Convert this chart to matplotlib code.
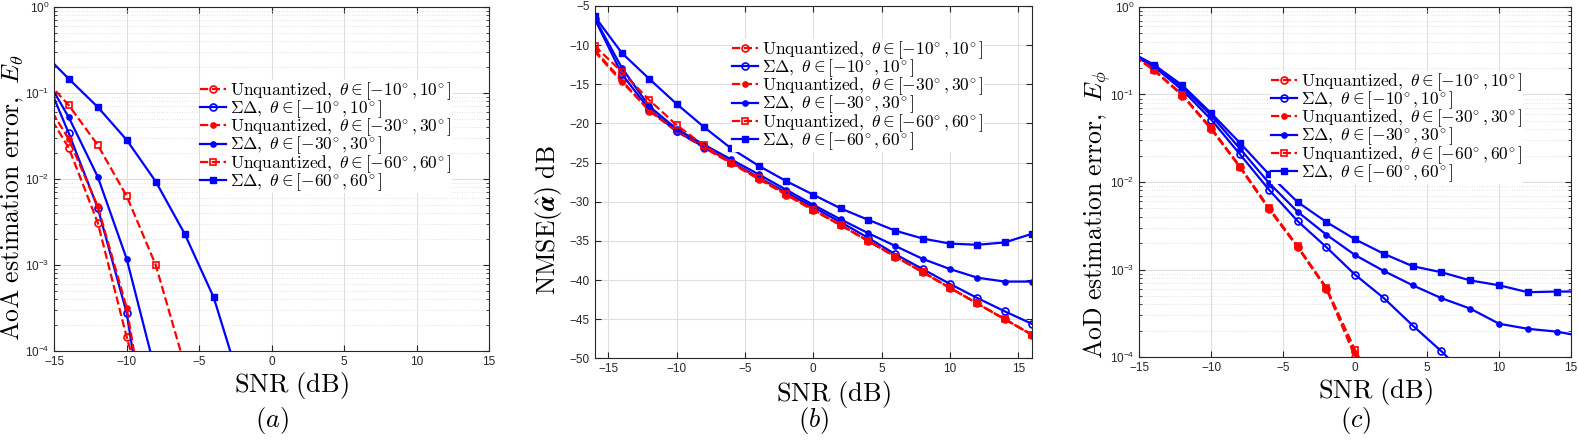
import numpy as np
import matplotlib
matplotlib.use('Agg')
import matplotlib.pyplot as plt
from matplotlib.ticker import FixedLocator, LogLocator, FuncFormatter, NullFormatter

plt.rcParams['font.family'] = ['Liberation Sans', 'DejaVu Sans']
plt.rcParams['mathtext.fontset'] = 'cm'

# SNR grid (dB) used by all three panels
snr = [-16, -14, -12, -10, -8, -6, -4, -2, 0, 2, 4, 6, 8, 10, 12, 14, 16]

# (a) AoA estimation error
a_unq10 = [0.082, 0.023, 0.0031, 0.000144, 1.0e-5]
a_sd10 = [0.216, 0.034, 0.0046, 0.000275, 2.0e-6]
a_unq30 = [0.103, 0.029, 0.0048, 0.000316, 3.0e-6]
a_sd30 = [0.20, 0.052, 0.0106, 0.00117, 5.6e-5]
a_unq60 = [0.167, 0.072, 0.0248, 0.0063, 0.001, 6.8e-5]
a_sd60 = [0.32, 0.146, 0.0686, 0.0284, 0.00935, 0.0023, 0.00042, 3.4e-5]

# (b) NMSE of alpha (dB)
b_unq10 = [-10.6, -14.5, -18.4, -21.0, -23.1, -25.1, -27.1, -29.1, -31.1,
           -33.0, -35.0, -37.0, -39.0, -41.0, -43.0, -45.0, -47.0]
b_sd10 = [-6.6, -13.7, -18.2, -21.0, -23.0, -24.9, -26.9, -28.8, -30.7,
          -32.6, -34.6, -36.7, -38.6, -40.5, -42.3, -44.0, -45.6]
b_unq30 = [-10.8, -14.7, -18.3, -20.9, -23.0, -25.0, -27.0, -29.0, -31.0,
           -32.95, -35.0, -37.0, -38.95, -41.0, -43.0, -45.0, -47.0]
b_sd30 = [-6.5, -12.9, -17.8, -20.7, -22.7, -24.6, -26.5, -28.45, -30.4,
          -32.25, -34.0, -35.65, -37.3, -38.6, -39.7, -40.2, -40.2]
b_unq60 = [-10.1, -13.4, -17.0, -20.2, -22.8, -25.0, -27.0, -29.0, -31.0,
           -33.0, -35.0, -37.0, -39.0, -41.0, -43.0, -45.0, -47.0]
b_sd60 = [-6.3, -11.0, -14.3, -17.5, -20.45, -23.2, -25.4, -27.35, -29.1,
          -30.85, -32.3, -33.7, -34.7, -35.35, -35.5, -35.2, -34.1]

# (c) AoD estimation error
c_unq10 = [0.325, 0.19, 0.097, 0.040, 0.0147, 0.0049, 0.0018, 0.0006, 1.0e-4, 1.0e-5]
c_sd10 = [0.31, 0.21, 0.112, 0.0516, 0.0207, 0.0082, 0.00358, 0.0018, 0.00087,
          0.00047, 0.000229, 0.000116, 5.5e-5]
c_unq30 = [0.33, 0.192, 0.098, 0.041, 0.0148, 0.005, 0.00182, 0.00061, 1.1e-4, 1.0e-5]
c_sd30 = [0.32, 0.215, 0.12, 0.0575, 0.024, 0.0098, 0.00457, 0.0025, 0.00146,
          0.00096, 0.00066, 0.00047, 0.000357, 0.00024, 0.00021, 0.000195, 0.00017]
c_unq60 = [0.33, 0.193, 0.099, 0.041, 0.015, 0.0051, 0.00185, 0.00062, 1.2e-4, 1.0e-5]
c_sd60 = [0.33, 0.22, 0.127, 0.061, 0.0279, 0.0123, 0.0059, 0.00349, 0.00221,
          0.00151, 0.00109, 0.00093, 0.00075, 0.00066, 0.00055, 0.00056, 0.00056]

deg = r'^{\!\circ}'
labels = [r'$\mathrm{Unquantized},\ \theta \in [-10%s, 10%s]$' % (deg, deg),
          r'$\Sigma\Delta,\ \theta \in [-10%s, 10%s]$' % (deg, deg),
          r'$\mathrm{Unquantized},\ \theta \in [-30%s, 30%s]$' % (deg, deg),
          r'$\Sigma\Delta,\ \theta \in [-30%s, 30%s]$' % (deg, deg),
          r'$\mathrm{Unquantized},\ \theta \in [-60%s, 60%s]$' % (deg, deg),
          r'$\Sigma\Delta,\ \theta \in [-60%s, 60%s]$' % (deg, deg)]

# red dashed = unquantized, blue solid = sigma-delta
styles = [dict(color='red', ls='--', lw=1.6, marker='o', ms=5, mfc='none', mew=1.2),
          dict(color='blue', ls='-', lw=1.6, marker='o', ms=5, mfc='none', mew=1.2),
          dict(color='red', ls='--', lw=1.6, marker='o', ms=3.8, mew=1.0),
          dict(color='blue', ls='-', lw=1.6, marker='o', ms=3.8, mew=1.0),
          dict(color='red', ls='--', lw=1.6, marker='s', ms=4.5, mfc='none', mew=1.2),
          dict(color='blue', ls='-', lw=1.6, marker='s', ms=4.5, mew=1.0)]

W, H = 1578, 447
fig = plt.figure(figsize=(W / 100, H / 100), dpi=100)
edge = (0.15, 0.15, 0.15)


def add_ax(l, r, t, b):
    return fig.add_axes([l / W, 1 - b / H, (r - l) / W, (b - t) / H])


def pow_fmt(v, pos):
    return r'$\mathregular{10^{%d}}$' % int(round(np.log10(v)))


def style_ax(ax, log):
    for s in ax.spines.values():
        s.set_color(edge)
        s.set_linewidth(0.8)
    ax.tick_params(which='both', direction='in', top=True, right=True,
                   colors=edge, labelsize=8.5, labelcolor=edge)
    ax.tick_params(which='major', length=4)
    ax.tick_params(which='minor', length=2)
    ax.grid(True, which='major', color='0.87', lw=0.8)
    if log:
        ax.grid(True, which='minor', color='0.85', lw=0.6, ls=(0, (1, 2)))
    ax.set_axisbelow(True)


def add_legend(ax, x, y):
    ax.legend(loc='upper left', bbox_to_anchor=(x / W, 1 - y / H),
              bbox_transform=fig.transFigure, fontsize=12.5, frameon=True,
              facecolor='white', edgecolor='none', framealpha=1, fancybox=False,
              borderpad=0.0, borderaxespad=0, handlelength=1.5, handletextpad=0.25,
              labelspacing=-0.2, numpoints=1)


# ---- (a) ----
ax1 = add_ax(54.3, 489, 7, 351)
style_ax(ax1, True)
for vals, lab, st in zip([a_unq10, a_sd10, a_unq30, a_sd30, a_unq60, a_sd60], labels, styles):
    ax1.semilogy(snr[:len(vals)], vals, label=lab, **st)
ax1.set_xlim(-15, 15)
ax1.set_ylim(1e-4, 1)
ax1.xaxis.set_major_locator(FixedLocator([-15, -10, -5, 0, 5, 10, 15]))
ax1.yaxis.set_major_formatter(FuncFormatter(pow_fmt))
ax1.yaxis.set_minor_locator(LogLocator(base=10, subs=np.arange(2, 10)))
ax1.yaxis.set_minor_formatter(NullFormatter())
ax1.set_xlabel(r'$\mathrm{SNR\ (dB)}$', fontsize=19)
ax1.set_ylabel(r'$\mathrm{AoA\ estimation\ error,}\ E_\theta$', fontsize=18.5)
ax1.xaxis.set_label_coords(0.545, -0.055)
ax1.yaxis.set_label_coords(-0.066, 0.445)
add_legend(ax1, 200, 80)

# ---- (b) ----
ax2 = add_ax(594.5, 1032, 6, 358.3)
style_ax(ax2, False)
for vals, lab, st in zip([b_unq10, b_sd10, b_unq30, b_sd30, b_unq60, b_sd60], labels, styles):
    ax2.plot(snr[:len(vals)], vals, label=lab, **st)
ax2.set_xlim(-16, 16)
ax2.set_ylim(-50, -5)
ax2.xaxis.set_major_locator(FixedLocator([-15, -10, -5, 0, 5, 10, 15]))
ax2.yaxis.set_major_locator(FixedLocator(np.arange(-50, -4, 5)))
ax2.set_xlabel(r'$\mathrm{SNR\ (dB)}$', fontsize=19)
ax2.set_ylabel(r'$\mathrm{NMSE}(\hat{\boldsymbol{\alpha}})\ \mathrm{dB}$', fontsize=18.5)
ax2.xaxis.set_label_coords(0.547, -0.06)
ax2.yaxis.set_label_coords(-0.07, 0.393)
add_legend(ax2, 732, 39)

# ---- (c) ----
ax3 = add_ax(1139.3, 1571, 7, 357)
style_ax(ax3, True)
for vals, lab, st in zip([c_unq10, c_sd10, c_unq30, c_sd30, c_unq60, c_sd60], labels, styles):
    ax3.semilogy(snr[:len(vals)], vals, label=lab, **st)
ax3.set_xlim(-15, 15)
ax3.set_ylim(1e-4, 1)
ax3.xaxis.set_major_locator(FixedLocator([-15, -10, -5, 0, 5, 10, 15]))
ax3.yaxis.set_major_formatter(FuncFormatter(pow_fmt))
ax3.yaxis.set_minor_locator(LogLocator(base=10, subs=np.arange(2, 10)))
ax3.yaxis.set_minor_formatter(NullFormatter())
ax3.set_xlabel(r'$\mathrm{SNR\ (dB)}$', fontsize=19)
ax3.set_ylabel(r'$\mathrm{AoD\ estimation\ error,}\ E_\phi$', fontsize=18.5)
ax3.xaxis.set_label_coords(0.546, -0.055)
ax3.yaxis.set_label_coords(-0.062, 0.406)
add_legend(ax3, 1271, 71)

# panel captions
for ax, cap in zip([ax1, ax2, ax3], ['(a)', '(b)', '(c)']):
    bb = ax.get_position()
    fig.text((bb.x0 + bb.x1) / 2, 1 - 421 / H, r'$%s$' % cap, fontsize=19,
             ha='center', va='center')

fig.savefig('out.png', dpi=100)
